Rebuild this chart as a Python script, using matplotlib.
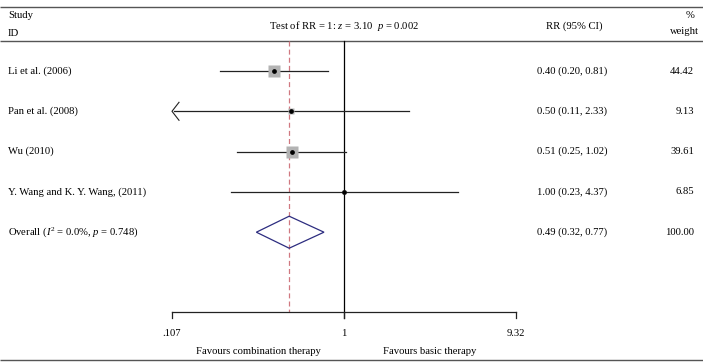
import numpy as np
import matplotlib
matplotlib.use("Agg")
import matplotlib.pyplot as plt
from matplotlib.patches import Polygon

plt.rcParams['font.family'] = ['Liberation Serif', 'DejaVu Serif']
plt.rcParams['mathtext.fontset'] = 'custom'
plt.rcParams['mathtext.rm'] = 'Liberation Serif'
plt.rcParams['mathtext.it'] = 'Liberation Serif:italic'

# ---- data ----
studies = ["Li et al. (2006)", "Pan et al. (2008)", "Wu (2010)", "Y. Wang and K. Y. Wang, (2011)"]
rr = [0.40, 0.50, 0.51, 1.00]
ci_lo = [0.20, 0.11, 0.25, 0.23]
ci_hi = [0.81, 2.33, 1.02, 4.37]
weights = [44.42, 9.13, 39.61, 6.85]
overall_label = "Overall ($I^2$ = 0.0%, $p$ = 0.748)"
overall_rr = 0.49
overall_lo = 0.32
overall_hi = 0.77
overall_weight = 100.00
x_ticks = [0.107, 1, 9.32]
x_ticklabels = [".107", "1", "9.32"]
test_label = "Test of RR = 1: $z$ = 3.10  $p$ = 0.002"
axis_min, axis_max = 0.107, 9.32

W, H = 703, 362
fig = plt.figure(figsize=(W / 100, H / 100), dpi=100)
ax = fig.add_axes([0, 0, 1, 1])
ax.set_axis_off()
ax.set_xscale('log')

# layout: map axis_min -> px 172, axis_max -> px 516
px_lo, px_hi = 172, 516
ppl = (px_hi - px_lo) / (np.log(axis_max) - np.log(axis_min))
ax.set_xlim(np.exp(np.log(axis_min) - px_lo / ppl), np.exp(np.log(axis_max) + (W - px_hi) / ppl))
row0, rowstep = 71, 40.3
ax.set_ylim((H - row0) / rowstep, -row0 / rowstep)

def ypx(p):
    return (p - row0) / rowstep

def ftxt(x, y, s, **kw):
    fig.text(x / W, 1 - y / H, s, **kw)

fs = 7.7
line_col = '#555555'

# header lines
for yy in (7, 41, 359.5):
    ax.plot([ax.get_xlim()[0], ax.get_xlim()[1]], [ypx(yy)] * 2, color=line_col, lw=1.0, solid_capstyle='butt')

# headers
ftxt(8, 15, "Study", fontsize=fs, va='center')
ftxt(8, 33, "ID", fontsize=fs, va='center')
ftxt(344, 26, test_label, fontsize=fs, va='center', ha='center')
ftxt(574, 26, "RR (95% CI)", fontsize=fs, va='center', ha='center')
ftxt(690, 15, "%", fontsize=fs, va='center', ha='center')
ftxt(684, 32, "weight", fontsize=fs, va='center', ha='center')

# reference lines
ax.plot([1, 1], [ypx(41), ypx(318)], color='black', lw=0.9)
ax.plot([overall_rr, overall_rr], [ypx(41), ypx(312)], color='#d07880', lw=0.9, dashes=(4, 2.5))

# studies
for i, (s, r, lo, hi, w) in enumerate(zip(studies, rr, ci_lo, ci_hi, weights)):
    left = max(lo, axis_min)
    ax.plot([left, hi], [i, i], color='#222222', lw=0.9, zorder=2)
    if lo <= axis_min * 1.05:
        # arrow at left end
        arr_dx = 7 / ppl
        arr_dy = 9 / rowstep
        ax.plot([np.exp(np.log(axis_min) + arr_dx), axis_min, np.exp(np.log(axis_min) + arr_dx)],
                [i - arr_dy, i, i + arr_dy], color='#222222', lw=0.8, zorder=2)
    ax.plot([r], [i], marker='s', ms=1.3 * np.sqrt(w), color='#b3b3b3', mec='none', zorder=3, ls='none')
    ax.plot([r], [i], marker='o', ms=2.4, color='black', zorder=4, ls='none')
    ftxt(8, row0 + i * rowstep, s, fontsize=fs, va='center')
    ftxt(537, row0 + i * rowstep, f"{r:.2f} ({lo:.2f}, {hi:.2f})", fontsize=fs, va='center')
    ftxt(694, row0 + i * rowstep, f"{w:.2f}", fontsize=fs, va='center', ha='right')

# overall
io = len(studies)
hd = 16 / rowstep
diamond = Polygon([(overall_lo, io), (overall_rr, io - hd), (overall_hi, io), (overall_rr, io + hd)],
                  closed=True, fill=False, edgecolor='#2d2d80', lw=0.9, zorder=3)
ax.add_patch(diamond)
ftxt(8, row0 + io * rowstep, overall_label, fontsize=fs, va='center')
ftxt(537, row0 + io * rowstep, f"{overall_rr:.2f} ({overall_lo:.2f}, {overall_hi:.2f})", fontsize=fs, va='center')
ftxt(694, row0 + io * rowstep, f"{overall_weight:.2f}", fontsize=fs, va='center', ha='right')

# bottom axis
ay = ypx(312)
ax.plot([axis_min, axis_max], [ay, ay], color='#222222', lw=0.9)
for t, tl in zip(x_ticks, x_ticklabels):
    ax.plot([t, t], [ay, ypx(318)], color='#222222', lw=0.9)
    ax.text(t, ypx(333), tl, fontsize=fs, ha='center', va='center')
ax.text(np.sqrt(axis_min * 1), ypx(351), "Favours combination therapy", fontsize=fs, ha='center', va='center')
ax.text(np.sqrt(axis_max * 1), ypx(351), "Favours basic therapy", fontsize=fs, ha='center', va='center')

fig.savefig("out.png", dpi=100)
